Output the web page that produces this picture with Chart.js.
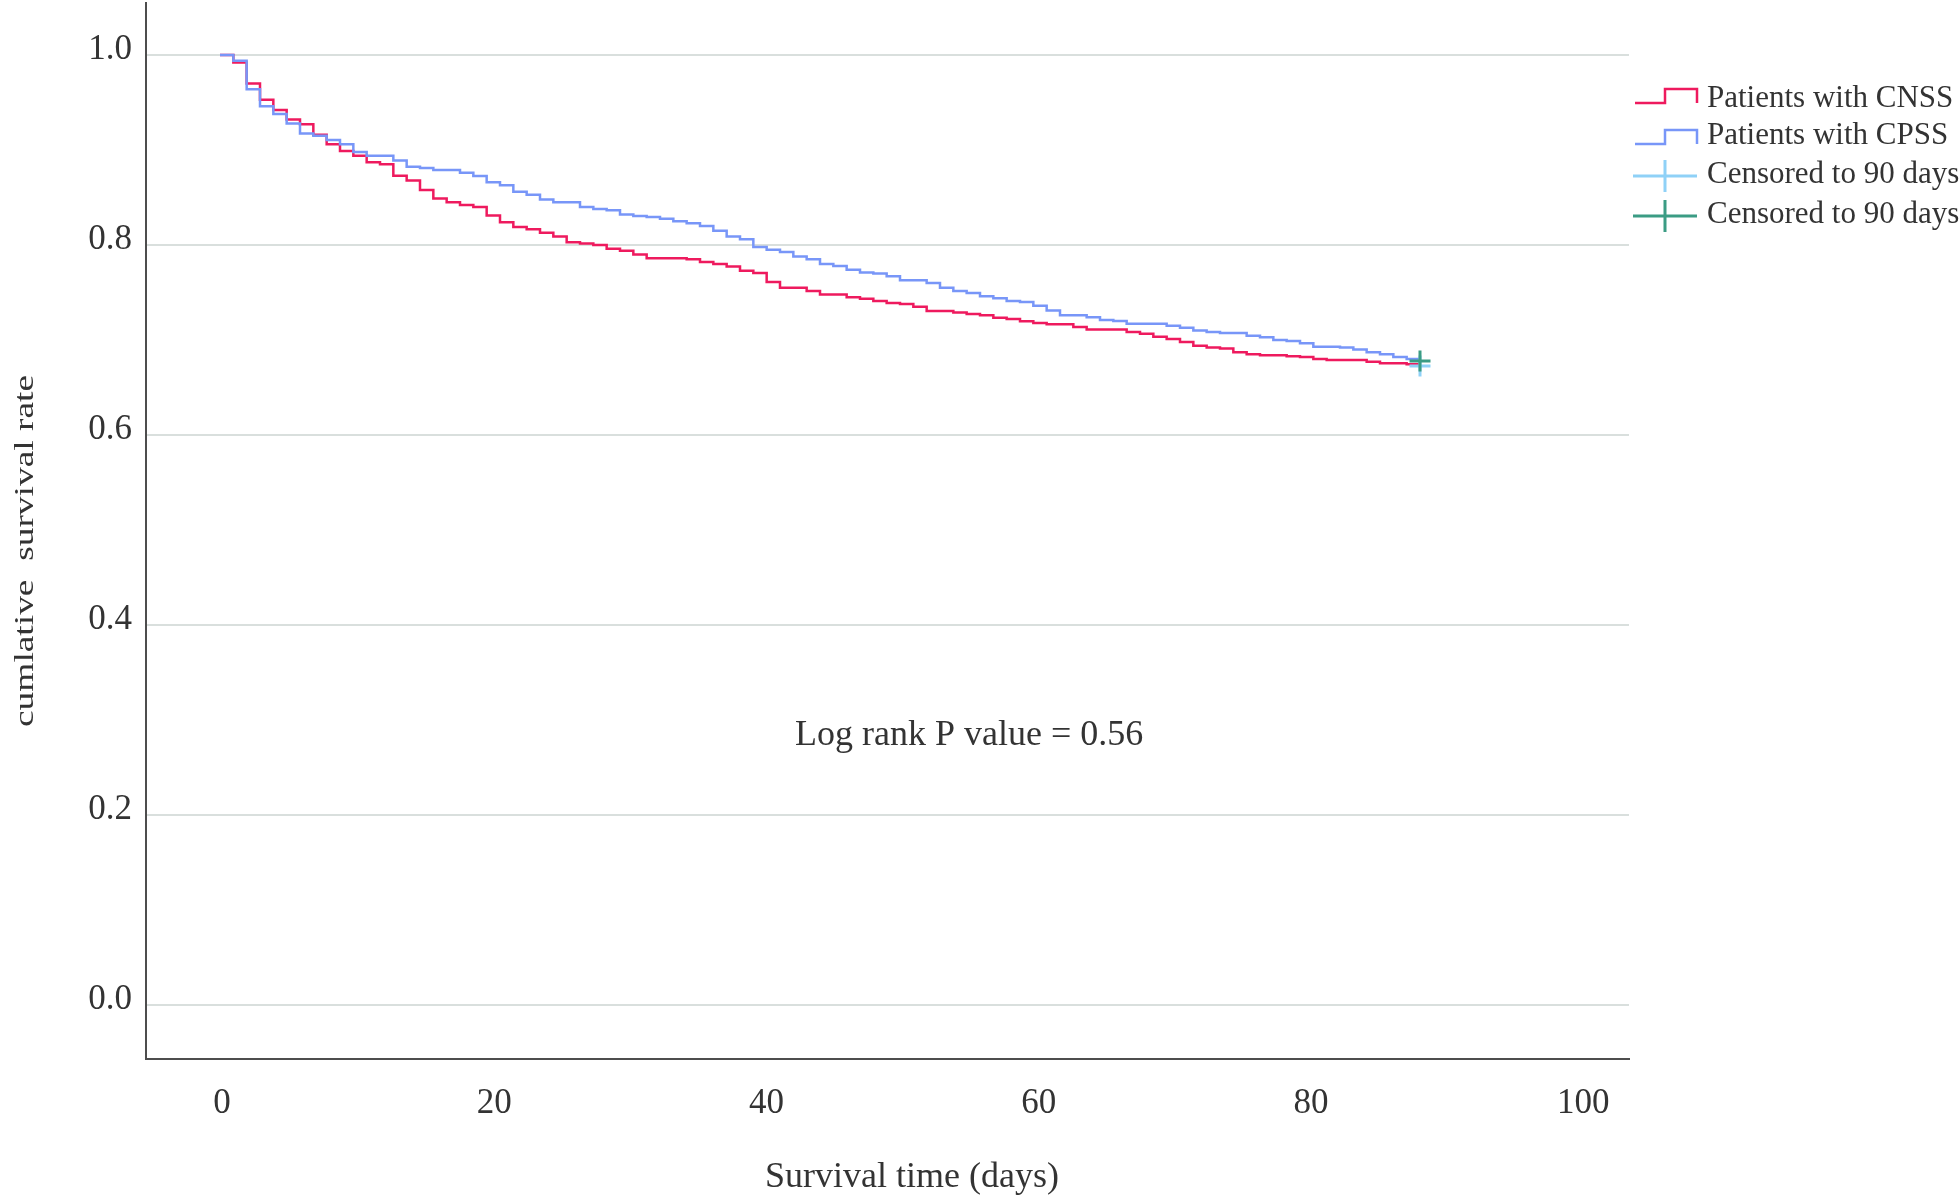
<!DOCTYPE html>
<html>
<head>
<meta charset="utf-8">
<script src="https://cdn.jsdelivr.net/npm/chart.js@4.4.1/dist/chart.umd.min.js"></script>
<style>
  html, body { margin: 0; padding: 0; background: #fff; }
  #wrap { width: 1960px; height: 1199px; }
</style>
</head>
<body>
<div id="wrap"><canvas id="kmChart" width="1960" height="1199"></canvas></div>
<script>
// Kaplan-Meier estimate, value after the drop on each day
const days = [0, 1, 2, 3, 4, 5, 6, 7, 8, 9, 10, 11, 12, 13, 14, 15, 16, 17, 18, 19,
  20, 21, 22, 23, 24, 25, 26, 27, 28, 29, 30, 31, 32, 33, 34, 35, 36, 37, 38, 39,
  40, 41, 42, 43, 44, 45, 46, 47, 48, 49, 50, 51, 52, 53, 54, 55, 56, 57, 58, 59,
  60, 61, 62, 63, 64, 65, 66, 67, 68, 69, 70, 71, 72, 73, 74, 75, 76, 77, 78, 79,
  80, 81, 82, 83, 84, 85, 86, 87, 88, 89, 90];

const cnss = [1.000, 0.992, 0.970, 0.953, 0.942, 0.932, 0.927, 0.916, 0.906, 0.899,
  0.894, 0.887, 0.885, 0.873, 0.868, 0.858, 0.849, 0.845, 0.842, 0.840,
  0.831, 0.824, 0.819, 0.8165, 0.813, 0.809, 0.803, 0.8015, 0.800, 0.796,
  0.794, 0.790, 0.786, 0.786, 0.786, 0.785, 0.782, 0.780, 0.7775, 0.773,
  0.7705, 0.761, 0.755, 0.755, 0.7515, 0.748, 0.748, 0.745, 0.7435, 0.741,
  0.739, 0.738, 0.735, 0.7305, 0.7305, 0.729, 0.7275, 0.726, 0.7235, 0.722,
  0.7197, 0.718, 0.7165, 0.7165, 0.7137, 0.711, 0.711, 0.711, 0.7084, 0.7067,
  0.7035, 0.701, 0.698, 0.694, 0.692, 0.691, 0.687, 0.685, 0.684, 0.684,
  0.683, 0.682, 0.680, 0.679, 0.679, 0.679, 0.677, 0.6755, 0.6755, 0.6744, 0.6744];

const cpss = [1.000, 0.994, 0.964, 0.946, 0.938, 0.928, 0.9175, 0.915, 0.9105, 0.906,
  0.898, 0.894, 0.894, 0.889, 0.8825, 0.881, 0.879, 0.879, 0.876, 0.8726,
  0.866, 0.863, 0.856, 0.853, 0.848, 0.845, 0.845, 0.840, 0.838, 0.8365,
  0.832, 0.8305, 0.8295, 0.8277, 0.825, 0.823, 0.820, 0.815, 0.809, 0.806,
  0.798, 0.795, 0.7926, 0.788, 0.785, 0.780, 0.778, 0.774, 0.771, 0.770,
  0.767, 0.763, 0.763, 0.760, 0.755, 0.7516, 0.7495, 0.746, 0.744, 0.741,
  0.740, 0.736, 0.731, 0.726, 0.726, 0.724, 0.721, 0.720, 0.717, 0.717,
  0.717, 0.715, 0.713, 0.710, 0.7084, 0.7074, 0.7074, 0.7045, 0.703, 0.700,
  0.699, 0.6965, 0.693, 0.693, 0.692, 0.690, 0.687, 0.685, 0.682, 0.680, 0.680];

// censor marks at the end of follow-up
const censorDay = [90];
const censorCnss = [0.6726];
const censorCpss = [0.6779];

const xTicks = [0, 20, 40, 60, 80, 100];
const yTicks = [0, 0.2, 0.4, 0.6, 0.8, 1.0];
const legendLabels = ['Patients with CNSS', 'Patients with CPSS', 'Censored to 90 days', 'Censored to 90 days'];

const RED = '#ee1a5e';
const BLUE = '#7896f8';
const LIGHT = '#8fd1f7';
const GREEN = '#3b9c84';
const TEXT = '#333333';
const FONT = '"Liberation Serif", "Times New Roman", serif';

const pts = (xs, ys) => xs.map((x, i) => ({ x, y: ys[i] }));

function stretchText(ctx, text, cx, cy, targetW, rot) {
  const w = ctx.measureText(text).width;
  ctx.save();
  ctx.translate(cx, cy);
  ctx.rotate(rot);
  ctx.scale(targetW / w, 1);
  ctx.textAlign = 'center';
  ctx.textBaseline = 'alphabetic';
  ctx.fillText(text, 0, 0);
  ctx.restore();
}

// titles, annotation and the legend with step / cross symbols
const extras = {
  id: 'extras',
  afterDraw(chart) {
    const ctx = chart.ctx;
    ctx.save();
    ctx.fillStyle = TEXT;

    ctx.font = '36px ' + FONT;
    ctx.textBaseline = 'alphabetic';
    ctx.textAlign = 'left';
    ctx.fillText('Log rank P value = 0.56', 795, 745);

    ctx.textAlign = 'center';
    ctx.fillText('Survival time (days)', 912, 1187);

    ctx.font = '27px ' + FONT;
    stretchText(ctx, 'cumlative  survival rate', 33, 551, 352, -Math.PI / 2);

    // legend
    ctx.lineWidth = 2.5;
    ctx.lineCap = 'butt';
    const step = (color, yLow, yHigh) => {
      ctx.strokeStyle = color;
      ctx.beginPath();
      ctx.moveTo(1635, yLow);
      ctx.lineTo(1665, yLow);
      ctx.lineTo(1665, yHigh);
      ctx.lineTo(1697, yHigh);
      ctx.lineTo(1697, yLow);
      ctx.stroke();
    };
    const cross = (color, yc) => {
      ctx.strokeStyle = color;
      ctx.lineWidth = 3;
      ctx.beginPath();
      ctx.moveTo(1633, yc);
      ctx.lineTo(1697, yc);
      ctx.moveTo(1665, yc - 16);
      ctx.lineTo(1665, yc + 16);
      ctx.stroke();
    };
    step(RED, 103, 89);
    step(BLUE, 144, 130);
    cross(LIGHT, 176);
    cross(GREEN, 216);

    ctx.font = '31px ' + FONT;
    ctx.fillStyle = TEXT;
    ctx.textAlign = 'left';
    const baselines = [107, 144, 183, 223];
    legendLabels.forEach((t, i) => ctx.fillText(t, 1707, baselines[i]));
    ctx.restore();
  }
};

const ctx = document.getElementById('kmChart').getContext('2d');
new Chart(ctx, {
  type: 'line',
  data: {
    datasets: [
      {
        label: legendLabels[3],
        xAxisID: 'days',
        data: pts(censorDay, censorCpss),
        showLine: false,
        pointStyle: 'cross',
        pointRadius: 10.5,
        pointBorderWidth: 3,
        pointBorderColor: GREEN,
        borderColor: GREEN
      },
      {
        label: legendLabels[2],
        xAxisID: 'days',
        data: pts(censorDay, censorCnss),
        showLine: false,
        pointStyle: 'cross',
        pointRadius: 10.5,
        pointBorderWidth: 3,
        pointBorderColor: LIGHT,
        borderColor: LIGHT
      },
      {
        label: legendLabels[1],
        xAxisID: 'days',
        data: pts(days, cpss),
        stepped: 'before',
        borderColor: BLUE,
        borderWidth: 2.5,
        pointRadius: 0,
        fill: false
      },
      {
        label: legendLabels[0],
        xAxisID: 'days',
        data: pts(days, cnss),
        stepped: 'before',
        borderColor: RED,
        borderWidth: 2.5,
        pointRadius: 0,
        fill: false
      }
    ]
  },
  options: {
    responsive: false,
    animation: false,
    layout: { autoPadding: false, padding: { top: 3, right: 331, left: 0, bottom: 0 } },
    plugins: { legend: { display: false }, tooltip: { enabled: false } },
    scales: {
      days: {
        type: 'linear',
        display: false,
        min: -5.55,
        max: 105.675
      },
      x: {
        type: 'linear',
        position: 'bottom',
        min: -5.584,
        max: 103.37,
        afterBuildTicks: scale => { scale.ticks = xTicks.map(v => ({ value: v })); },
        afterFit: scale => {
          scale.height = 140;
          scale.paddingLeft = 0;
          scale.paddingRight = 0;
        },
        grid: { display: false },
        border: { display: true, color: '#4d4d4d', width: 2 },
        ticks: {
          padding: 16,
          maxRotation: 0,
          color: TEXT,
          font: { size: 35, family: FONT }
        }
      },
      y: {
        type: 'linear',
        min: -0.05684,
        max: 1.05474,
        afterBuildTicks: scale => { scale.ticks = yTicks.map(v => ({ value: v })); },
        afterFit: scale => {
          scale.width = 146;
          scale.paddingTop = 0;
          scale.paddingBottom = 0;
        },
        grid: { color: '#d9dfdd', lineWidth: 2, drawTicks: false },
        border: { display: true, color: '#4d4d4d', width: 2 },
        ticks: {
          padding: 14,
          labelOffset: -5,
          color: TEXT,
          font: { size: 35, family: FONT },
          callback: v => v.toFixed(1)
        }
      }
    }
  },
  plugins: [extras]
});
</script>
</body>
</html>
